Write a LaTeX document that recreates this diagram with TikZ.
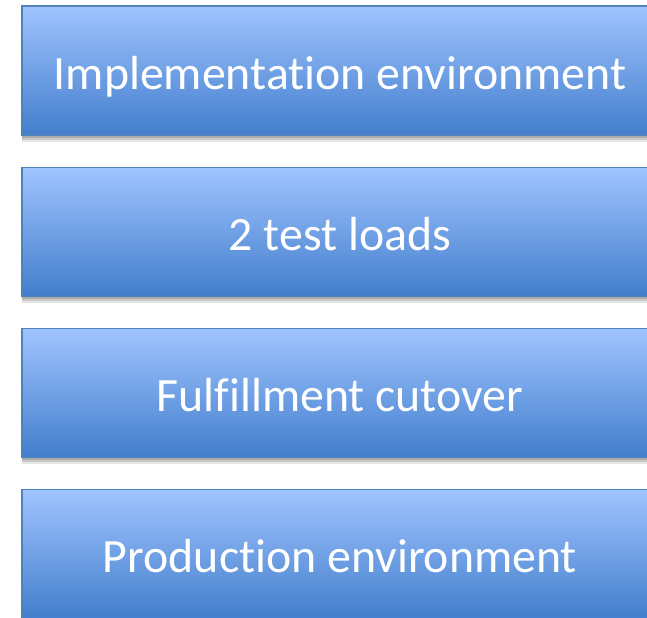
\documentclass[tikz,border=0pt]{standalone}
\usepackage{fontspec}
\setmainfont[Ligatures=NoCommon]{Carlito}
\usetikzlibrary{positioning,shadows}
\definecolor{boxtop}{RGB}{160,196,255}
\definecolor{boxbot}{RGB}{66,126,204}
\definecolor{boxline}{RGB}{79,129,189}
\tikzset{
  stage/.style={draw=boxline,line width=1.2bp,top color=boxtop,bottom color=boxbot,
                minimum width=636bp,minimum height=129bp,inner sep=0pt,
                text height=37bp,text depth=0bp,
                text=white,font=\fontsize{48}{52}\selectfont,
                drop shadow={shadow xshift=0bp,shadow yshift=-7bp,opacity=0.1,fill=black},
                drop shadow={shadow xshift=0bp,shadow yshift=-5bp,opacity=0.12,fill=black},
                drop shadow={shadow xshift=0bp,shadow yshift=-3bp,opacity=0.15,fill=black}}}
\begin{document}
\begin{tikzpicture}
  \def\W{647bp}  % picture width
  \def\H{618bp}  % picture height
  \def\gap{31bp} % space between boxes
  \clip (0,0) rectangle (\W,-\H);
  \fill[white] (0,0) rectangle (\W,-\H);

  % STAGES
  \node[stage] (impl) at (340bp,-70.5bp) {Implementation environment};
  \node[stage,below=\gap of impl] (test) {2 test loads};
  \node[stage,below=\gap of test] (cutover) {Fulfillment cutover};
  \node[stage,below=\gap of cutover] (prod) {Production environment};

\end{tikzpicture}
\end{document}
